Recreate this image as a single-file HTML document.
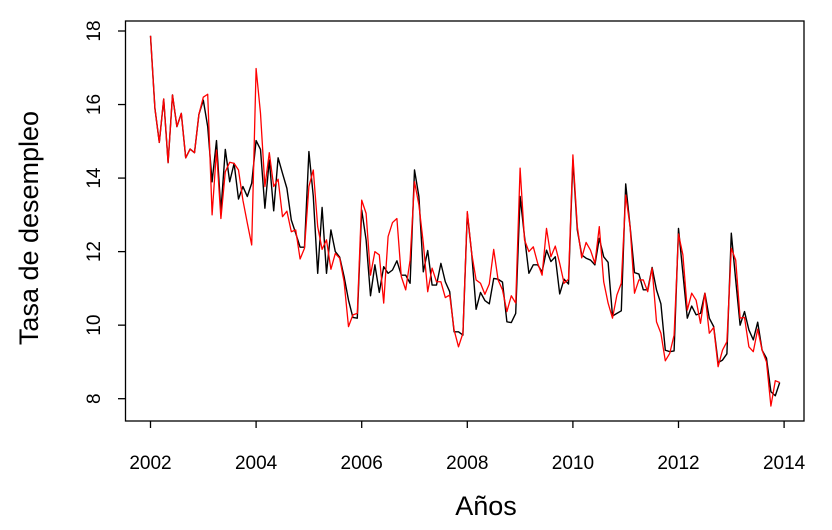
<!DOCTYPE html>
<html><head><meta charset="utf-8"><style>
html,body{margin:0;padding:0;background:#fff;width:832px;height:530px;overflow:hidden}
svg{display:block;font-family:"Liberation Sans",Arial,sans-serif}
</style></head><body>
<svg id="chart" width="832" height="530" viewBox="0 0 832 530" xmlns="http://www.w3.org/2000/svg">
<rect x="125.5" y="21" width="678.5" height="400" fill="none" stroke="#000" stroke-width="1.3"/>
<g id="xaxis"></g>
<g id="yaxis"></g>
<g id="series"></g>
<text x="486" y="515" font-size="27" text-anchor="middle">Años</text>
<text transform="translate(38,228) rotate(-90)" font-size="27" text-anchor="middle">Tasa de desempleo</text>
</svg>
<script>
const startYear = 2002;
const xTicks = [2002, 2004, 2006, 2008, 2010, 2012, 2014];
const yTicks = [8, 10, 12, 14, 16, 18];
const observed = [
17.87,15.9,14.97,16.15,14.42,16.26,15.4,15.76,14.55,14.79,14.69,15.73,
16.12,15.4,13.9,15.02,13.1,14.78,13.9,14.4,13.43,13.77,13.5,13.86,
15.02,14.78,13.18,14.49,13.11,14.55,14.13,13.72,12.86,12.5,12.12,12.12,
14.72,13.5,11.41,13.2,11.41,12.59,12.0,11.85,11.32,10.68,10.21,10.19,
13.13,12.32,10.8,11.64,10.89,11.59,11.41,11.5,11.75,11.36,11.36,11.14,
14.22,13.5,11.45,12.03,11.09,11.09,11.68,11.18,10.91,9.82,9.82,9.73,
13.04,11.95,10.43,10.89,10.67,10.58,11.27,11.25,11.17,10.09,10.07,10.32,
13.5,12.41,11.41,11.64,11.64,11.45,12.04,11.73,11.86,10.85,11.25,11.12,
14.49,12.59,11.91,11.82,11.77,11.64,12.36,11.86,11.71,10.25,10.32,10.39,
13.84,12.68,11.43,11.39,10.96,10.96,11.57,10.96,10.58,9.32,9.28,9.3,
12.63,11.41,10.19,10.52,10.28,10.32,10.87,10.19,9.96,8.98,9.05,9.22,
12.5,11.23,10.0,10.37,9.87,9.6,10.08,9.32,9.1,8.19,8.08,8.44];
const fitted = [
17.87,15.9,14.97,16.15,14.42,16.26,15.4,15.76,14.55,14.79,14.69,15.73,
16.2,16.28,13.0,14.76,12.9,14.17,14.43,14.4,14.22,13.4,12.78,12.18,
16.98,15.76,13.77,14.69,13.77,13.97,12.95,13.1,12.54,12.59,11.8,12.09,
13.77,14.22,12.68,12.06,12.32,11.52,11.95,11.82,11.18,9.96,10.28,10.32,
13.4,13.04,11.36,12.0,11.91,10.6,12.41,12.79,12.9,11.32,10.96,11.77,
13.9,13.27,12.23,10.91,11.55,11.18,11.18,10.75,10.82,9.87,9.41,9.78,
13.09,11.95,11.23,11.14,10.84,11.12,12.06,11.23,10.96,10.37,10.8,10.6,
14.27,12.32,12.0,12.13,11.68,11.36,12.63,11.86,12.15,11.68,11.14,11.25,
14.63,12.68,11.83,12.25,12.04,11.68,12.68,11.18,10.6,10.19,10.82,11.14,
13.54,12.68,10.87,11.23,11.23,10.91,11.55,10.09,9.78,9.03,9.23,9.73,
12.48,11.91,10.41,10.87,10.68,10.05,10.87,9.78,9.94,8.87,9.32,9.55,
12.09,11.77,10.19,10.21,9.41,9.28,9.89,9.32,9.0,7.8,8.49,8.44];

const NS = "http://www.w3.org/2000/svg";
function xScale(t){ return 150.5 + (t - 2002) * 52.8; }
function yScale(v){ return 31 + (18 - v) * 36.77; }
function mk(tag, attrs, parent){
  const e = document.createElementNS(NS, tag);
  for (const k in attrs) e.setAttribute(k, attrs[k]);
  parent.appendChild(e); return e;
}
const xg = document.getElementById('xaxis');
const yg = document.getElementById('yaxis');
const sg = document.getElementById('series');
xTicks.forEach(t => {
  const x = xScale(t);
  const tk = mk('line', {x1:x, x2:x, y1:421, y2:428, stroke:'#000', 'stroke-width':1.3}, xg);
  
  
  const lb = mk('text', {x:x, y:469, 'font-size':19, 'text-anchor':'middle'}, xg);
  lb.textContent = t;
  
  
});
yTicks.forEach(v => {
  const y = yScale(v);
  const tk = mk('line', {x1:118, x2:125.5, y1:y, y2:y, stroke:'#000', 'stroke-width':1.3}, yg);
  
  
  const lb = mk('text', {transform:'translate(100,' + y + ') rotate(-90)', 'font-size':19, 'text-anchor':'middle'}, yg);
  lb.textContent = v;
  
  
});
function pathFor(arr){
  return arr.map((v, i) => (i ? 'L' : 'M') + xScale(startYear + i / 12).toFixed(2) + ',' + yScale(v).toFixed(2)).join(' ');
}
const pb = mk('path', {d:pathFor(observed), fill:'none', stroke:'#000', 'stroke-width':1.4, 'stroke-linejoin':'round'}, sg);


const pr = mk('path', {d:pathFor(fitted), fill:'none', stroke:'#ff0000', 'stroke-width':1.3, 'stroke-linejoin':'round'}, sg);


</script>
</body></html>
